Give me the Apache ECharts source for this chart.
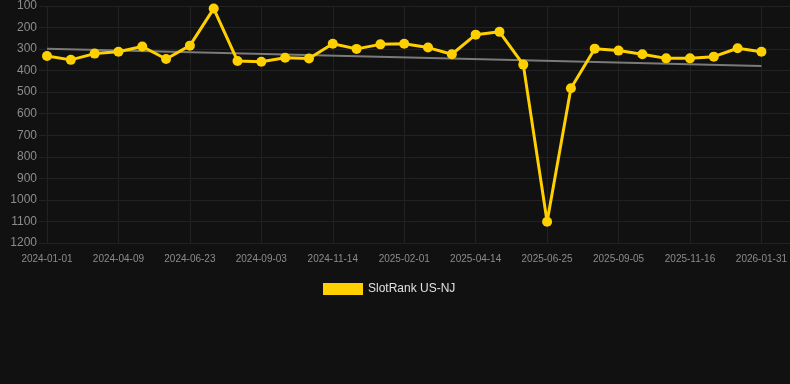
<!DOCTYPE html>
<html>
<head>
<meta charset="utf-8">
<script src="https://cdn.jsdelivr.net/npm/echarts@6/dist/echarts.min.js"></script>
<style>
  html, body { margin: 0; padding: 0; background: #111111; }
  #rank_chart { width: 790px; height: 384px; }
</style>
</head>
<body>
<div id="rank_chart"></div>
<script>
var dates = [
    '2024-01-01', '2024-02-03', '2024-03-07', '2024-04-09', '2024-05-04', '2024-05-29',
    '2024-06-23', '2024-07-17', '2024-08-10', '2024-09-03', '2024-09-27', '2024-10-21',
    '2024-11-14', '2024-12-10', '2025-01-06', '2025-02-01', '2025-02-25', '2025-03-21',
    '2025-04-14', '2025-05-08', '2025-06-01', '2025-06-25', '2025-07-19', '2025-08-12',
    '2025-09-05', '2025-09-29', '2025-10-23', '2025-11-16', '2025-12-11', '2026-01-06',
    '2026-01-31'
];
var rankValues = [
    332, 350, 321, 312, 288, 346,
    284, 112, 355, 359, 340, 344,
    275, 299, 278, 275, 293, 324,
    233, 220, 372, 1101, 482, 298,
    307, 324, 343, 343, 335, 296,
    312
];
// trend line end points
var trendValues = [298, 378];
var yTicks = [100, 200, 300, 400, 500, 600, 700, 800, 900, 1000, 1100, 1200];

var seriesName = 'SlotRank US-NJ';

var rank_option = {
    backgroundColor: '#111111',
    animation: false,
    grid: [
        { left: 39, right: 0, top: 6, bottom: 141 },
        { left: 47, right: 28, top: 6, bottom: 141 }
    ],
    legend: {
        top: 278,
        left: 318,
        itemWidth: 40,
        itemHeight: 12,
        icon: 'rect',
        textStyle: { color: '#e0e0e0', fontSize: 12, fontFamily: 'Liberation Sans, Arial, sans-serif' },
        data: [seriesName]
    },
    xAxis: [
        {
            gridIndex: 0,
            type: 'value',
            min: 0,
            max: 1,
            show: false
        },
        {
            gridIndex: 1,
            type: 'category',
            boundaryGap: false,
            data: dates,
            axisLine: { show: false },
            axisTick: { show: false },
            axisLabel: {
                interval: 2,
                color: '#8c8c8c',
                fontSize: 10,
                margin: 11,
                fontFamily: 'Liberation Sans, Arial, sans-serif'
            },
            splitLine: {
                show: true,
                interval: 2,
                lineStyle: { color: '#222222', width: 1 }
            }
        }
    ],
    yAxis: [
        {
            gridIndex: 0,
            type: 'value',
            inverse: true,
            min: yTicks[0],
            max: yTicks[yTicks.length - 1],
            interval: 100,
            axisLine: { show: false },
            axisTick: { show: false },
            axisLabel: {
                color: '#8c8c8c',
                fontSize: 12,
                margin: 2,
                fontFamily: 'Liberation Sans, Arial, sans-serif',
                formatter: function (v) { return String(v); }
            },
            splitLine: { lineStyle: { color: '#222222', width: 1 } }
        },
        {
            gridIndex: 1,
            type: 'value',
            inverse: true,
            min: yTicks[0],
            max: yTicks[yTicks.length - 1],
            interval: 100,
            show: false,
            splitLine: { show: false }
        }
    ],
    series: [
        {
            name: 'trend',
            type: 'line',
            xAxisIndex: 1,
            yAxisIndex: 1,
            z: 1,
            symbol: 'none',
            silent: true,
            lineStyle: { color: '#7a7a7a', width: 2 },
            data: [
                [dates[0], trendValues[0]],
                [dates[dates.length - 1], trendValues[1]]
            ]
        },
        {
            name: seriesName,
            type: 'line',
            xAxisIndex: 1,
            yAxisIndex: 1,
            z: 3,
            symbol: 'circle',
            symbolSize: 10,
            itemStyle: { color: '#FFD000' },
            lineStyle: { color: '#FFD000', width: 3 },
            data: rankValues
        }
    ]
};

var rank_chart = echarts.init(document.getElementById('rank_chart'));
rank_chart.setOption(rank_option);
</script>
</body>
</html>
